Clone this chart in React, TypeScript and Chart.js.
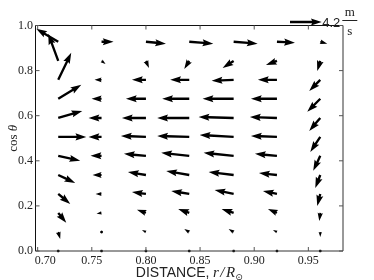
import React, { useEffect, useRef } from "react";
import { Chart, registerables } from "chart.js";

Chart.register(...registerables);

// Columns: distance r / R_sun
const radii = [0.719, 0.759, 0.8, 0.84, 0.881, 0.921, 0.961];
// Rows: cos(theta), bottom to top
const cosTheta = [0, 0.084, 0.169, 0.253, 0.337, 0.422, 0.506, 0.59, 0.675, 0.759, 0.843, 0.928];

// Radial velocity component u (m/s), one row per cosTheta value (bottom to top)
const uRows = [
  [0, 0, 0, 0, 0, 0, 0],
  [0.26, -0.26, -0.53, -0.66, -0.66, -0.53, 0],
  [1.06, -0.66, -1.19, -1.46, -1.59, -1.19, -0.13],
  [1.59, -0.79, -1.85, -2.38, -2.52, -1.85, -0.4],
  [2.25, -1.19, -2.38, -3.05, -3.31, -2.38, -0.66],
  [2.91, -1.46, -2.91, -3.71, -3.97, -2.91, -0.93],
  [3.71, -1.72, -3.31, -4.24, -4.5, -3.44, -1.32],
  [3.18, -1.72, -3.18, -4.24, -4.64, -3.58, -1.46],
  [3.05, -1.32, -2.65, -3.58, -4.11, -3.44, -1.72],
  [1.72, -0.93, -1.85, -2.52, -2.91, -2.52, -1.46],
  [-1.32, 0.53, 0.4, -0.66, -1.46, -1.46, -0.4],
  [-2.91, 1.59, 2.65, 3.18, 3.18, 2.38, 0.93],
];

// Latitudinal velocity component v (m/s), towards larger cosTheta
const vRows = [
  [0, 0, 0, 0, 0, 0, 0],
  [-0.93, -0.13, 0.26, 0.4, 0.4, 0.26, -0.66],
  [-1.32, -0.13, 0.4, 0.53, 0.53, 0.53, -1.06],
  [-1.32, 0, 0.26, 0.4, 0.53, 0.4, -1.59],
  [-1.06, 0, 0.4, 0.53, 0.4, 0.26, -1.72],
  [-0.66, 0, 0.26, 0.4, 0.4, 0.26, -1.99],
  [0, 0, 0.13, 0.13, 0.26, 0.13, -1.99],
  [0.93, 0, 0, 0, 0.13, 0.13, -1.72],
  [1.85, 0, 0, 0, 0, 0, -1.72],
  [3.58, 0, 0, 0, -0.13, 0, -1.46],
  [3.58, -0.4, -0.93, -1.06, -0.93, -0.53, -1.32],
  [1.72, 0, -0.26, -0.26, -0.26, -0.13, -0.26],
];

const xTicks = [0.7, 0.75, 0.8, 0.85, 0.9, 0.95];
const yTicks = [0, 0.2, 0.4, 0.6, 0.8, 1.0];
const keySpeed = 4.2;
const keyLabel = "4.2";

const X_MIN = 0.698;
const X_MAX = 0.982;
const QUIVER_SCALE = 40.7; // axes widths per m/s (matplotlib-style 'width' units)
const SHAFT_W = 2.35;

function drawArrow(ctx: CanvasRenderingContext2D, x0: number, y0: number, dx: number, dy: number, w: number) {
  const L = Math.hypot(dx, dy) / w;
  const ang = Math.atan2(dy, dx);
  const c = Math.cos(ang);
  const s = Math.sin(ang);
  const hl = 4.6, hal = 4.1, hw = 3, minsh = 4.6, minlen = 1;
  let pts: [number, number][] = [];
  if (L < minlen) {
    for (let k = 0; k < 6; k++) {
      const th = (k * Math.PI) / 3;
      pts.push([Math.cos(th) * 0.65, Math.sin(th) * 0.65]);
    }
  } else if (L < minsh) {
    const f = L / minsh;
    const xs = [0, minsh - hal, minsh - hl, minsh].map((v) => v * f);
    const ys = [0.5, 0.5, hw / 2, 0].map((v) => v * f);
    pts = [
      [xs[0], ys[0]], [xs[1], ys[1]], [xs[2], ys[2]], [xs[3], 0],
      [xs[2], -ys[2]], [xs[1], -ys[1]], [xs[0], -ys[0]],
    ];
  } else {
    pts = [
      [0, 0.5], [L - hal, 0.5], [L - hl, hw / 2], [L, 0],
      [L - hl, -hw / 2], [L - hal, -0.5], [0, -0.5],
    ];
  }
  ctx.beginPath();
  pts.forEach(([px, py], i) => {
    const X = x0 + (px * c - py * s) * w;
    const Y = y0 + (px * s + py * c) * w;
    if (i === 0) ctx.moveTo(X, Y);
    else ctx.lineTo(X, Y);
  });
  ctx.closePath();
  ctx.fill();
}

export default function App() {
  const ref = useRef<HTMLCanvasElement>(null);

  useEffect(() => {
    if (!ref.current) return;
    const points: { x: number; y: number; u: number; v: number }[] = [];
    cosTheta.forEach((cy, i) =>
      radii.forEach((r, j) => points.push({ x: r, y: cy, u: uRows[i][j], v: vRows[i][j] }))
    );

    const quiverPlugin = {
      id: "quiver",
      afterDatasetsDraw(chart: any) {
        const ctx = chart.ctx as CanvasRenderingContext2D;
        const meta = chart.getDatasetMeta(0);
        const k = chart.chartArea.width / QUIVER_SCALE;
        ctx.save();
        ctx.fillStyle = "#000";
        meta.data.forEach((el: any, i: number) => {
          const p = points[i];
          drawArrow(ctx, el.x, el.y, p.u * k, -p.v * k, SHAFT_W);
        });
        ctx.restore();
      },
    };

    const framePlugin = {
      id: "frame",
      afterDraw(chart: any) {
        const ctx = chart.ctx as CanvasRenderingContext2D;
        const a = chart.chartArea;
        const xs = chart.scales.x;
        const ys = chart.scales.y;
        ctx.save();
        // spines
        ctx.lineWidth = 1;
        ctx.strokeStyle = "#111";
        ctx.beginPath();
        ctx.moveTo(a.left, a.bottom);
        ctx.lineTo(a.left, a.top);
        ctx.lineTo(a.right, a.top);
        ctx.stroke();
        ctx.strokeStyle = "#333";
        ctx.beginPath();
        ctx.moveTo(a.left, a.bottom);
        ctx.lineTo(a.right, a.bottom);
        ctx.lineTo(a.right, a.top);
        ctx.stroke();
        // inward ticks
        ctx.strokeStyle = "#555";
        ctx.beginPath();
        xTicks.forEach((t) => {
          const px = xs.getPixelForValue(t);
          ctx.moveTo(px, a.bottom);
          ctx.lineTo(px, a.bottom - 4);
          ctx.moveTo(px, a.top);
          ctx.lineTo(px, a.top + 4);
        });
        yTicks.forEach((t) => {
          const py = ys.getPixelForValue(t);
          ctx.moveTo(a.left, py);
          ctx.lineTo(a.left + 4, py);
          ctx.moveTo(a.right, py);
          ctx.lineTo(a.right - 4, py);
        });
        ctx.stroke();

        // y title: cos θ
        ctx.fillStyle = "#222";
        ctx.textBaseline = "alphabetic";
        ctx.translate(16.5, (a.top + a.bottom) / 2);
        ctx.rotate(-Math.PI / 2);
        ctx.font = "13px 'Liberation Serif'";
        const w1 = ctx.measureText("cos ").width;
        ctx.font = "italic 13px 'Liberation Serif'";
        const w2 = ctx.measureText("θ").width;
        let sx = -(w1 + w2) / 2;
        ctx.font = "13px 'Liberation Serif'";
        ctx.fillText("cos ", sx, 0);
        ctx.font = "italic 13px 'Liberation Serif'";
        ctx.fillText("θ", sx + w1, 0);
        ctx.setTransform(1, 0, 0, 1, 0, 0);

        // x title: DISTANCE, r/R⊙
        const parts: [string, string, number, number][] = [
          ["DISTANCE,", "14px 'Liberation Sans'", 0, 3.5],
          ["r", "italic 15px 'Liberation Serif'", 0, 1.5],
          ["/", "italic 15px 'Liberation Serif'", 0, 1.5],
          ["R", "italic 15px 'Liberation Serif'", 0, 0],
          ["⊙", "9px 'DejaVu Sans'", 3, 0],
        ];
        let total = 0;
        parts.forEach(([t, f, , gap]) => {
          ctx.font = f;
          total += ctx.measureText(t).width + gap;
        });
        let cx = (a.left + a.right) / 2 - total / 2;
        const base = 276.5;
        parts.forEach(([t, f, dy, gap]) => {
          ctx.font = f;
          ctx.fillText(t, cx, base + dy);
          cx += ctx.measureText(t).width + gap;
        });

        // quiver key
        const k = a.width / QUIVER_SCALE;
        const keyLen = keySpeed * k;
        const kx = a.right - 53;
        const ky = 22;
        ctx.fillStyle = "#000";
        drawArrow(ctx, kx, ky, keyLen, 0, SHAFT_W);
        ctx.fillStyle = "#222";
        ctx.font = "13px 'Liberation Sans'";
        ctx.textAlign = "left";
        ctx.fillText(keyLabel, kx + keyLen + 0.5, 26.5);
        const lx = kx + keyLen + 0.5 + ctx.measureText(keyLabel).width + 2;
        ctx.font = "13px 'Liberation Serif'";
        ctx.textAlign = "center";
        ctx.fillText("m", lx + 7.5, 15.5);
        ctx.fillText("s", lx + 7.5, 34.5);
        ctx.strokeStyle = "#222";
        ctx.beginPath();
        ctx.moveTo(lx, 20.5);
        ctx.lineTo(lx + 15, 20.5);
        ctx.stroke();
        ctx.restore();
      },
    };

    const chart = new Chart(ref.current, {
      type: "scatter",
      data: {
        datasets: [
          {
            data: points.map((p) => ({ x: p.x, y: p.y })),
            pointRadius: 0,
            pointHoverRadius: 0,
            showLine: false,
          },
        ],
      },
      options: {
        animation: false,
        responsive: true,
        maintainAspectRatio: false,
        events: [],
        layout: { padding: { top: 25.5, right: 31, bottom: 0, left: 0 } },
        plugins: { legend: { display: false }, tooltip: { enabled: false } },
        scales: {
          x: {
            type: "linear",
            min: X_MIN,
            max: X_MAX,
            afterBuildTicks: (s: any) => {
              s.ticks = xTicks.map((v) => ({ value: v }));
            },
            afterFit: (s: any) => {
              s.height = 29;
            },
            ticks: {
              autoSkip: false,
              maxRotation: 0,
              padding: 3,
              color: "#222",
              font: { family: "'Liberation Serif'", size: 12 },
              callback: (v: any) => (Math.abs(Number(v) - 0.7) < 1e-9 ? "     0.70" : Number(v).toFixed(2)),
            },
            grid: { display: false, drawTicks: false },
            border: { display: false },
          },
          y: {
            type: "linear",
            min: 0,
            max: 1,
            afterBuildTicks: (s: any) => {
              s.ticks = yTicks.map((v) => ({ value: v }));
            },
            afterFit: (s: any) => {
              s.width = 35.5;
            },
            ticks: {
              autoSkip: false,
              padding: 2.5,
              color: "#222",
              font: { family: "'Liberation Serif'", size: 12 },
              callback: (v: any) => Number(v).toFixed(1),
            },
            grid: { display: false, drawTicks: false },
            border: { display: false },
          },
        },
      },
      plugins: [quiverPlugin, framePlugin],
    });
    return () => chart.destroy();
  }, []);

  return (
    <div style={{ position: "fixed", left: 0, top: 0, width: 374, height: 280, background: "#fff" }}>
      <canvas ref={ref} />
    </div>
  );
}
